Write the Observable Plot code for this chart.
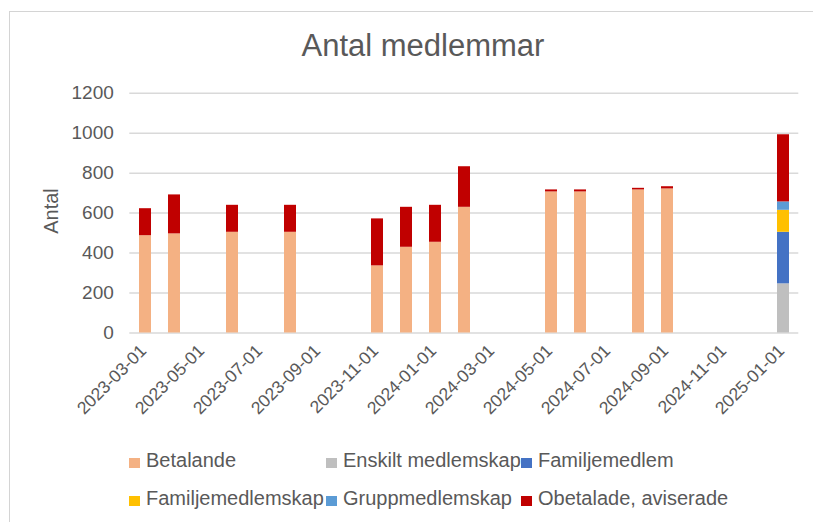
<!DOCTYPE html>
<html>
<head>
<meta charset="utf-8">
<script src="https://cdn.jsdelivr.net/npm/d3@7"></script>
<script src="https://cdn.jsdelivr.net/npm/@observablehq/plot@0.6"></script>
<style>
  html, body { margin: 0; padding: 0; overflow: hidden; background: #fff; }
  #wrap { position: relative; width: 813px; height: 522px; overflow: hidden;
          font-family: "Liberation Sans", Arial, Helvetica, sans-serif; color: #595959; }
  #frame { position: absolute; left: 8.5px; top: 10.5px; width: 900px; height: 700px;
           border: 1px solid #d4d4d4; box-sizing: border-box; }
  #title { position: absolute; left: 301.5px; top: 29.8px; font-size: 31px; line-height: 31px; white-space: nowrap; }
  #ytitle { position: absolute; left: 51px; top: 211px; font-size: 20px; line-height: 20px;
            transform: translate(-50%, -50%) rotate(-90deg); white-space: nowrap; }
  #chart { position: absolute; left: 0; top: 0; }
  .item { position: absolute; font-size: 20px; line-height: 20px; white-space: nowrap; }
  .sw { position: absolute; width: 11px; height: 10px; }
</style>
</head>
<body>
<div id="wrap">
  <div id="frame"></div>
  <div id="chart"></div>
  <div id="title">Antal medlemmar</div>
  <div id="ytitle">Antal</div>
  <div id="legend"></div>
</div>
<script>
// ---- data ----
const dates = ["2023-03-01","2023-04-01","2023-06-01","2023-08-01","2023-11-01","2023-12-01",
               "2024-01-01","2024-02-01","2024-05-01","2024-06-01","2024-08-01","2024-09-01","2025-01-01"];
const seriesNames = ["Betalande","Enskilt medlemskap","Familjemedlem","Familjemedlemskap","Gruppmedlemskap","Obetalade, aviserade"];
const betalande         = [487, 496, 504, 504, 336, 429, 454, 629, 706, 706, 716, 721, 0];
const enskilt           = [0, 0, 0, 0, 0, 0, 0, 0, 0, 0, 0, 0, 246];
const familjemedlem     = [0, 0, 0, 0, 0, 0, 0, 0, 0, 0, 0, 0, 258];
const familjemedlemskap = [0, 0, 0, 0, 0, 0, 0, 0, 0, 0, 0, 0, 110];
const gruppmedlemskap   = [0, 0, 0, 0, 0, 0, 0, 0, 0, 0, 0, 0, 42];
const obetalade         = [135, 195, 135, 135, 235, 200, 185, 203, 10, 10, 8, 11, 336];
const colors = ["#F4B183","#BFBFBF","#4472C4","#FFC000","#5B9BD5","#C00000"];
const yTicks = [0, 200, 400, 600, 800, 1000, 1200];
const xTickLabels = ["2023-03-01","2023-05-01","2023-07-01","2023-09-01","2023-11-01","2024-01-01",
                     "2024-03-01","2024-05-01","2024-07-01","2024-09-01","2024-11-01","2025-01-01"];

const seriesValues = [betalande, enskilt, familjemedlem, familjemedlemskap, gruppmedlemskap, obetalade];
const table = seriesNames.flatMap((s, i) =>
  dates.map((d, j) => ({date: d, series: s, value: seriesValues[i][j]}))
).filter(d => d.value > 0);

const fmt = d3.utcFormat("%Y-%m-%d");
const months = d3.utcMonth.range(new Date(Date.UTC(2023, 2, 1)), new Date(Date.UTC(2025, 1, 1))).map(fmt);

const plot = Plot.plot({
  width: 813,
  height: 440,
  marginTop: 92.7,
  marginBottom: 107.5,
  marginLeft: 129.3,
  marginRight: 14.7,
  style: {color: "#595959", fontFamily: "'Liberation Sans', Arial, Helvetica, sans-serif", background: "transparent"},
  x: {type: "band", domain: months, paddingInner: 0.575, paddingOuter: 0.2875},
  y: {domain: [0, 1200]},
  color: {domain: seriesNames, range: colors},
  marks: [
    Plot.ruleY(yTicks, {stroke: "#d9d9d9", strokeWidth: 1.5}),
    Plot.barY(table, {x: "date", y: "value", fill: "series"}),
    Plot.axisY(yTicks, {tickSize: 0, tickPadding: 16, fontSize: 19, tickFormat: d => String(d), label: null}),
    Plot.axisX(xTickLabels, {tickSize: 0, tickPadding: 15, tickRotate: -45, fontSize: 17.5, dx: -2, label: null})
  ]
});
document.getElementById("chart").appendChild(plot);

// ---- legend ----
const legendPos = [
  {col: 129, row: 0}, {col: 326, row: 0}, {col: 521, row: 0},
  {col: 129, row: 1}, {col: 326, row: 1}, {col: 521, row: 1}
];
const rowTops = [450, 488];
const legend = document.getElementById("legend");
seriesNames.forEach((name, i) => {
  const p = legendPos[i];
  const sw = document.createElement("div");
  sw.className = "sw";
  sw.style.left = p.col + "px";
  sw.style.top = (rowTops[p.row] + 8) + "px";
  sw.style.background = colors[i];
  legend.appendChild(sw);
  const t = document.createElement("div");
  t.className = "item";
  t.style.left = (p.col + 17) + "px";
  t.style.top = rowTops[p.row] + "px";
  t.textContent = name;
  legend.appendChild(t);
});
</script>
</body>
</html>
